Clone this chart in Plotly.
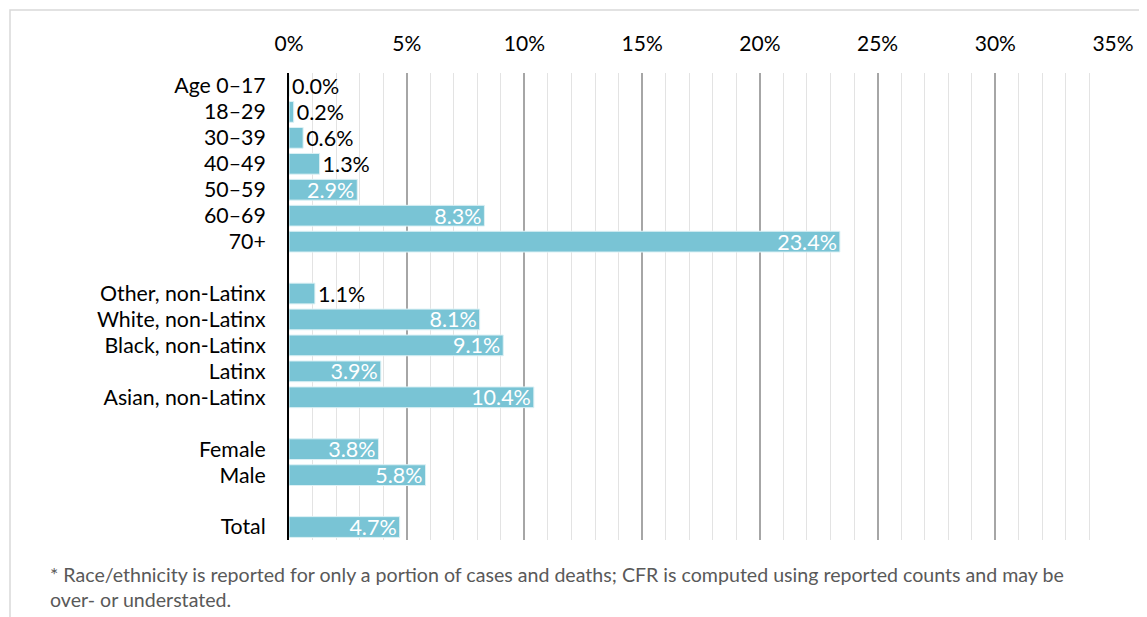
import plotly.graph_objects as go

categories = ["Age 0–17", "18–29", "30–39", "40–49", "50–59", "60–69", "70+",
              "Other, non-Latinx", "White, non-Latinx", "Black, non-Latinx", "Latinx", "Asian, non-Latinx",
              "Female", "Male", "Total"]
values = [0.0, 0.2, 0.6, 1.3, 2.9, 8.3, 23.4,
          1.1, 8.1, 9.1, 3.9, 10.4,
          3.8, 5.8, 4.7]
category_order = ["Age 0–17", "18–29", "30–39", "40–49", "50–59", "60–69", "70+", " ",
                  "Other, non-Latinx", "White, non-Latinx", "Black, non-Latinx", "Latinx", "Asian, non-Latinx", "  ",
                  "Female", "Male", "   ", "Total"]
x_ticks = [0, 5, 10, 15, 20, 25, 30, 35]
x_tick_labels = ["0%", "5%", "10%", "15%", "20%", "25%", "30%", "35%"]
footnote = ("* Race/ethnicity is reported for only a portion of cases and deaths; CFR is computed using reported counts and may be<br>"
            "over- or understated.")

FONT = "Lato"
inside = [v >= 2.5 for v in values]
positions = ["inside" if i else "outside" for i in inside]
colors = ["white" if i else "black" for i in inside]

# page body has an 8px margin, so the figure is sized/offset accordingly
W, H = 1139, 609
L, T = 281, 65
PW, PH = 824, 467

fig = go.Figure(go.Bar(
    y=categories, x=values, orientation="h",
    marker=dict(color="#79C4D5", line=dict(color="#DDF1F5", width=1)),
    width=0.8,
    text=[f"{v:.1f}%" for v in values],
    textposition=positions,
    insidetextanchor="end",
    textfont=dict(color=colors, size=21.5, family=FONT),
    constraintext="none",
    cliponaxis=False,
    hoverinfo="skip",
))

fig.update_layout(
    width=W, height=H,
    margin=dict(l=L, r=W - L - PW, t=T, b=H - T - PH),
    paper_bgcolor="white", plot_bgcolor="white",
    font=dict(family=FONT, size=21, color="#000000"),
    showlegend=False,
    uniformtext=dict(mode="show", minsize=8),
    xaxis=dict(
        range=[0, 35], side="top", tickmode="array", tickvals=x_ticks, ticktext=x_tick_labels,
        showgrid=True, gridcolor="#A6A6A6", gridwidth=1.5,
        minor=dict(dtick=1, showgrid=True, gridcolor="#E3E3E3", gridwidth=1),
        zeroline=False, showline=False, ticks="", ticklabelstandoff=17,
        tickfont=dict(size=21, family=FONT, color="#000000"), fixedrange=True,
    ),
    yaxis=dict(
        categoryorder="array", categoryarray=category_order, type="category",
        tickmode="array", tickvals=category_order, ticktext=category_order,
        autorange="reversed", showline=True, linecolor="#000000", linewidth=2,
        showgrid=False, ticks="", ticklabelstandoff=17,
        tickfont=dict(size=21.3, family=FONT, color="#000000"),
    ),
    shapes=[dict(type="rect", xref="paper", yref="paper",
                 x0=(2 - L) / PW, x1=1.2, y0=-0.3, y1=1 + (T - 2) / PH,
                 line=dict(color="#D9D9D9", width=1.5), fillcolor="rgba(0,0,0,0)", layer="below")],
    annotations=[dict(text=footnote, xref="paper", yref="paper",
                      x=(40 - L) / PW, y=-(553 - 532) / PH, xanchor="left", yanchor="top",
                      align="left", showarrow=False,
                      font=dict(size=19.6, family=FONT, color="#595959"))],
)

fig.write_html("out.html")
